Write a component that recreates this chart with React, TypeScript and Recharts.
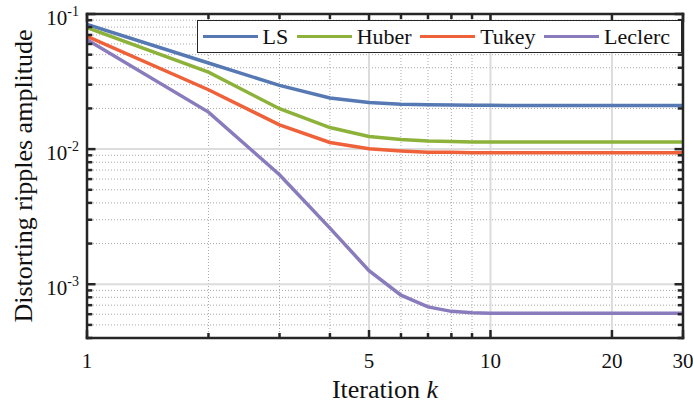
// App.tsx
// Log-log line chart – distorting ripples amplitude vs iteration for four estimators.
// Recharts LineChart with log scales, MATLAB-like box axes and inward ticks.

import * as React from "react";
import { LineChart, Line, XAxis, YAxis, ReferenceLine, Legend } from "recharts";

const FONT =
  "'Liberation Serif', 'Times New Roman', Times, 'Nimbus Roman', 'Nimbus Roman No9 L', Tinos, 'Noto Serif', 'DejaVu Serif', FreeSerif, serif";
const AXIS = "#262626";
const TEXT = "#111111";

// iteration k
const iterations = [
  1, 2, 3, 4, 5, 6, 7, 8, 9, 10, 11, 12, 13, 14, 15, 16, 17, 18, 19, 20, 21,
  22, 23, 24, 25, 26, 27, 28, 29, 30,
];

const lsValues = [
  0.0838, 0.0434, 0.0296, 0.0239, 0.0221, 0.0215, 0.0213, 0.0212, 0.0211,
  0.0211, 0.021, 0.021, 0.021, 0.021, 0.021, 0.021, 0.021, 0.021, 0.021,
  0.021, 0.021, 0.021, 0.021, 0.021, 0.021, 0.021, 0.021, 0.021, 0.021, 0.021,
];
const huberValues = [
  0.0792, 0.0371, 0.0199, 0.01445, 0.0124, 0.0118, 0.0115, 0.0114, 0.0113,
  0.0113, 0.0113, 0.0113, 0.0113, 0.0113, 0.0113, 0.0113, 0.0113, 0.0113,
  0.0113, 0.0113, 0.0113, 0.0113, 0.0113, 0.0113, 0.0113, 0.0113, 0.0113,
  0.0113, 0.0113, 0.0113,
];
const tukeyValues = [
  0.0682, 0.0275, 0.0151, 0.0112, 0.01005, 0.0097, 0.0095, 0.0095, 0.0094,
  0.0094, 0.0094, 0.0094, 0.0094, 0.0094, 0.0094, 0.0094, 0.0094, 0.0094,
  0.0094, 0.0094, 0.0094, 0.0094, 0.0094, 0.0094, 0.0094, 0.0094, 0.0094,
  0.0094, 0.0094, 0.0094,
];
const leclercValues = [
  0.0645, 0.0188, 0.00646, 0.0026, 0.00126, 0.00083, 0.00068, 0.00063,
  0.000615, 0.00061, 0.00061, 0.00061, 0.00061, 0.00061, 0.00061, 0.00061,
  0.00061, 0.00061, 0.00061, 0.00061, 0.00061, 0.00061, 0.00061, 0.00061,
  0.00061, 0.00061, 0.00061, 0.00061, 0.00061, 0.00061,
];

// axis ticks / grid
const xTicks = [1, 2, 3, 4, 5, 6, 7, 8, 9, 10, 20, 30];
const xMajor = [1, 5, 10, 20, 30];
const xMinorGrid = [2, 3, 4, 6, 7, 8, 9];
const xMajorGrid = [5, 10, 20];

const yTicks = [
  0.0004, 0.0005, 0.0006, 0.0007, 0.0008, 0.0009, 0.001, 0.002, 0.003, 0.004,
  0.005, 0.006, 0.007, 0.008, 0.009, 0.01, 0.02, 0.03, 0.04, 0.05, 0.06, 0.07,
  0.08, 0.09, 0.1,
];
const yMajor = [0.001, 0.01, 0.1];
const yMajorLabels = ["-3", "-2", "-1"];
const yMajorGrid = [0.001, 0.01];

const series = [
  { key: "ls", name: "LS", color: "#5679b4", values: lsValues },
  { key: "huber", name: "Huber", color: "#8cb23a", values: huberValues },
  { key: "tukey", name: "Tukey", color: "#ef6139", values: tukeyValues },
  { key: "leclerc", name: "Leclerc", color: "#8a7bbd", values: leclercValues },
];

const data = iterations.map((k, i) => {
  const row: Record<string, number> = { k };
  series.forEach((s) => {
    row[s.key] = s.values[i];
  });
  return row;
});

// ---- ticks (inward, MATLAB style) ----
const BottomTick = (props: any) => {
  const { x, y, payload } = props;
  const major = xMajor.includes(payload.value);
  return (
    <g>
      <line x1={x} x2={x} y1={y} y2={y - (major ? 8 : 5)} stroke={AXIS} strokeWidth={2.5} />
      {major && (
        <text x={x} y={y + 30} textAnchor="middle" fontSize={21} style={{ fontFamily: FONT }} fill={TEXT}>
          {payload.value}
        </text>
      )}
    </g>
  );
};

const TopTick = (props: any) => {
  const { x, y, payload } = props;
  const major = xMajor.includes(payload.value);
  return <line x1={x} x2={x} y1={y} y2={y + (major ? 8 : 5)} stroke={AXIS} strokeWidth={2.5} />;
};

const LeftTick = (props: any) => {
  const { x, y, payload } = props;
  const idx = yMajor.indexOf(payload.value);
  const major = idx >= 0;
  return (
    <g>
      <line x1={x} x2={x + (major ? 8.5 : 5.3)} y1={y} y2={y} stroke={AXIS} strokeWidth={2.5} />
      {major && (
        <text x={x - 8} y={y + 11} textAnchor="end" fontSize={21} style={{ fontFamily: FONT }} fill={TEXT}>
          <tspan>10</tspan>
          <tspan dy={-9} fontSize={14}>
            {yMajorLabels[idx]}
          </tspan>
        </text>
      )}
    </g>
  );
};

const RightTick = (props: any) => {
  const { x, y, payload } = props;
  const major = yMajor.includes(payload.value);
  return <line x1={x} x2={x - (major ? 8.5 : 5.3)} y1={y} y2={y} stroke={AXIS} strokeWidth={2.5} />;
};

// legend drawn in series order (recharts 3 sorts the payload by name)
const renderLegend = () => (
  <div
    style={{
      boxSizing: "border-box",
      width: "100%",
      height: "100%",
      border: `1.6px solid ${AXIS}`,
      background: "#fff",
      display: "flex",
      alignItems: "center",
      paddingLeft: 4.5,
      fontFamily: FONT,
      fontSize: 22,
      color: TEXT,
      whiteSpace: "nowrap",
    }}
  >
    {series.map((s) => (
      <div key={s.key} style={{ display: "flex", alignItems: "center", marginRight: 8.5 }}>
        <span style={{ display: "inline-block", width: 55, height: 3.5, background: s.color }} />
        <span style={{ marginLeft: 5, lineHeight: "22px" }}>{s.name}</span>
      </div>
    ))}
  </div>
);

const axisLineStyle = { stroke: AXIS, strokeWidth: 2.5, strokeLinecap: "square" as const };

const App: React.FC = () => {
  return (
    <div style={{ position: "absolute", left: 0, top: 0, width: 693, height: 403, background: "#fff" }}>
      <LineChart width={693} height={403} data={data} margin={{ top: 13, right: 9, left: 0, bottom: 0 }}>
        {xMinorGrid.map((v) => (
          <ReferenceLine key={`xm${v}`} x={v} stroke="#a8a8a8" strokeWidth={1} strokeDasharray="1 2" />
        ))}
        {yTicks
          .filter((v) => !yMajor.includes(v))
          .map((v) => (
            <ReferenceLine key={`ym${v}`} y={v} stroke="#a8a8a8" strokeWidth={1} strokeDasharray="1 2" />
          ))}
        {xMajorGrid.map((v) => (
          <ReferenceLine key={`xM${v}`} x={v} stroke="#dcdcdc" strokeWidth={2} />
        ))}
        {yMajorGrid.map((v) => (
          <ReferenceLine key={`yM${v}`} y={v} stroke="#dcdcdc" strokeWidth={2} />
        ))}

        {series.map((s) => (
          <Line
            key={s.key}
            dataKey={s.key}
            name={s.name}
            stroke={s.color}
            strokeWidth={3.5}
            dot={false}
            activeDot={false}
            type="linear"
            isAnimationActive={false}
          />
        ))}

        <XAxis
          dataKey="k"
          type="number"
          scale="log"
          domain={[1, 30]}
          allowDataOverflow
          ticks={xTicks}
          interval={0}
          height={65}
          tickSize={0}
          tickMargin={0}
          tickLine={false}
          axisLine={axisLineStyle}
          tick={<BottomTick />}
          label={{
            content: (p: any) => {
              const vb = p.viewBox || {};
              return (
                <text
                  x={vb.x + vb.width / 2}
                  y={vb.y + 60}
                  textAnchor="middle"
                  fontSize={26}
                  style={{ fontFamily: FONT }}
                  fill={TEXT}
                >
                  Iteration <tspan fontStyle="italic">k</tspan>
                </text>
              );
            },
          }}
        />
        <XAxis
          xAxisId="top"
          orientation="top"
          dataKey="k"
          type="number"
          scale="log"
          domain={[1, 30]}
          allowDataOverflow
          ticks={xTicks}
          interval={0}
          height={1}
          tickSize={0}
          tickMargin={0}
          tickLine={false}
          axisLine={axisLineStyle}
          tick={<TopTick />}
        />
        <YAxis
          type="number"
          scale="log"
          domain={[0.0004, 0.1]}
          allowDataOverflow
          ticks={yTicks}
          interval={0}
          width={87}
          tickSize={0}
          tickMargin={0}
          tickLine={false}
          axisLine={axisLineStyle}
          tick={<LeftTick />}
          label={{
            content: (p: any) => {
              const vb = p.viewBox || {};
              const cy = vb.y + vb.height / 2;
              return (
                <text
                  x={32}
                  y={cy}
                  transform={`rotate(-90 32 ${cy})`}
                  textAnchor="middle"
                  fontSize={26}
                  style={{ fontFamily: FONT }}
                  fill={TEXT}
                >
                  Distorting ripples amplitude
                </text>
              );
            },
          }}
        />
        <YAxis
          yAxisId="right"
          orientation="right"
          type="number"
          scale="log"
          domain={[0.0004, 0.1]}
          allowDataOverflow
          ticks={yTicks}
          interval={0}
          width={1}
          tickSize={0}
          tickMargin={0}
          tickLine={false}
          axisLine={axisLineStyle}
          tick={<RightTick />}
        />
        <Legend
          layout="horizontal"
          verticalAlign="middle"
          align="center"
          content={renderLegend}
          wrapperStyle={{ left: 197, top: 20, width: 485, height: 33 }}
        />
      </LineChart>
    </div>
  );
};

export default App;
